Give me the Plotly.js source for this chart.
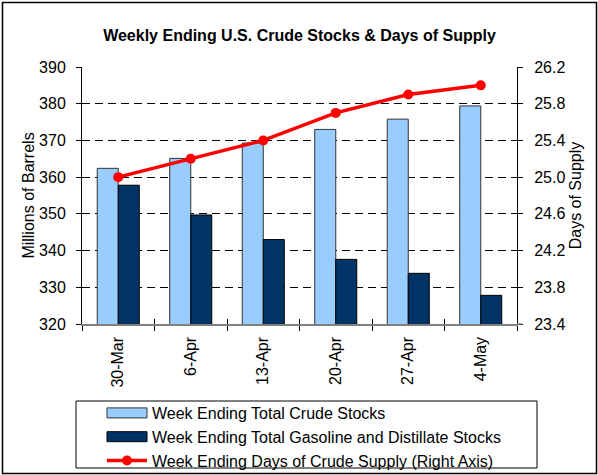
<!DOCTYPE html>
<html><head><meta charset="utf-8">
<script src="https://cdn.plot.ly/plotly-3.0.1.min.js"></script>
<style>html,body{margin:0;padding:0;background:#fff;}#chart{width:598px;height:475px;}</style>
</head><body><div id="chart"></div>
<script>
const categories = ["30-Mar","6-Apr","13-Apr","20-Apr","27-Apr","4-May"];
const crudeStocks = [362.4, 365.1, 369.3, 373.0, 375.8, 379.4];
const gasDistStocks = [357.8, 349.7, 343.0, 337.6, 333.8, 327.8];
const daysSupply = [25.0, 25.2, 25.4, 25.7, 25.9, 26.0];
const leftTicks = [320,330,340,350,360,370,380,390];
const rightTicks = [23.4,23.8,24.2,24.6,25.0,25.4,25.8,26.2];
const rightTickText = ["23.4","23.8","24.2","24.6","25.0","25.4","25.8","26.2"];

const F = "Liberation Sans, Arial, sans-serif";
const FS = 16;
const traces = [
  {type:"bar", x:categories, y:crudeStocks, name:"Week Ending Total Crude Stocks",
   marker:{color:"#99CCFF", line:{color:"#333", width:1}}},
  {type:"bar", x:categories, y:gasDistStocks, name:"Week Ending Total Gasoline and Distillate Stocks",
   marker:{color:"#003366", line:{color:"#000", width:1}}},
  {type:"scatter", mode:"lines+markers", x:categories, y:daysSupply, yaxis:"y2",
   name:"Week Ending Days of Crude Supply (Right Axis)",
   line:{color:"#FF0000", width:3.5}, marker:{color:"#FF0000", size:10}},
  {type:"scatter", x:categories, y:[null,null,null,null,null,null], xaxis:"x2", yaxis:"y3", showlegend:false, hoverinfo:"skip"}
];
const layout = {
  width:598, height:475,
  margin:{l:82, r:81, t:67, b:151, autoexpand:false},
  paper_bgcolor:"#fff", plot_bgcolor:"#fff",
  font:{family:F, size:FS, color:"#000"},
  showlegend:true,
  title:{text:"<b>Weekly Ending U.S. Crude Stocks &amp; Days of Supply</b>", font:{family:F, size:FS, color:"#000"},
         x:0.5, xanchor:"center", y:1-35/475, yanchor:"middle", xref:"paper"},
  barmode:"group", bargap:0.42, bargroupgap:0,
  xaxis:{type:"category", showline:true, linecolor:"#808080", linewidth:1.5, ticks:"outside", ticklen:5,
         tickcolor:"#000", tickson:"boundaries", tickangle:-90, tickfont:{family:F, size:FS},
         showgrid:false, zeroline:false, ticklabelstandoff:5},
  xaxis2:{type:"category", overlaying:"x", matches:"x", showline:false, ticks:"inside", ticklen:5, tickcolor:"#000",
          tickson:"boundaries", showticklabels:false, showgrid:false, zeroline:false, anchor:"y3"},
  yaxis:{range:[320,390], tickvals:leftTicks, showline:true, linecolor:"#000", linewidth:1,
         ticks:"outside", ticklen:5, tickcolor:"#000", tickfont:{family:F, size:FS},
         showgrid:true, gridcolor:"#000", gridwidth:1, griddash:"8px,5px", zeroline:false,
         ticklabelstandoff:7,
         title:{text:"Millions of Barrels", font:{family:F, size:FS}, standoff:0}},
  yaxis2:{range:[23.4,26.2], tickvals:rightTicks, ticktext:rightTickText, overlaying:"y", side:"right",
          showline:true, linecolor:"#000", linewidth:1, ticks:"outside", ticklen:5, tickcolor:"#000",
          tickfont:{family:F, size:FS}, showgrid:false, zeroline:false, ticklabelstandoff:8,
          title:{text:"Days of Supply", font:{family:F, size:FS}, standoff:5}},
  yaxis3:{range:[320,390], tickvals:leftTicks, overlaying:"y", side:"left", ticks:"inside", ticklen:5,
          tickcolor:"#000", showticklabels:false, showgrid:false, zeroline:false, showline:false},
  legend:{x:20/435, xanchor:"left", y:(324-396)/257, yanchor:"top", bgcolor:"rgba(0,0,0,0)",
          borderwidth:0, font:{family:F, size:FS}, tracegroupgap:0, itemwidth:40, traceorder:"normal"},
  shapes:[
    {type:"rect", xref:"paper", yref:"paper", x0:(76-82)/435, x1:(537-82)/435, y0:(324-468)/257, y1:(324-401)/257,
     line:{color:"#000", width:1}, fillcolor:"rgba(0,0,0,0)"},
    {type:"rect", xref:"paper", yref:"paper", x0:(2.5-82)/435, x1:(596.5-82)/435, y0:(324-473.5)/257, y1:(324-2.5)/257,
     line:{color:"#000", width:1.5}, fillcolor:"rgba(0,0,0,0)"},
    {type:"line", xref:"paper", yref:"paper", x0:1, x1:1+5/435, y0:0, y1:0, line:{color:"#808080", width:1.5}}
  ]
};
function widenLegendBars(gd){
  gd.querySelectorAll(".legend .traces .legendpoints path.legendundefined, .legend .traces .legendbar path, .legend .traces g.legendpoints path").forEach(p=>{
    const d = p.getAttribute("d") || "";
    if (/^M6,6H-6V-6H6Z$/.test(d.replace(/\s/g,""))) p.setAttribute("d","M20,5H-20V-5H20Z");
  });
}
Plotly.newPlot("chart", traces, layout, {displayModeBar:false, staticPlot:true}).then(gd=>{
  widenLegendBars(gd);
  gd.on("plotly_afterplot", ()=>widenLegendBars(gd));
});
</script></body></html>
